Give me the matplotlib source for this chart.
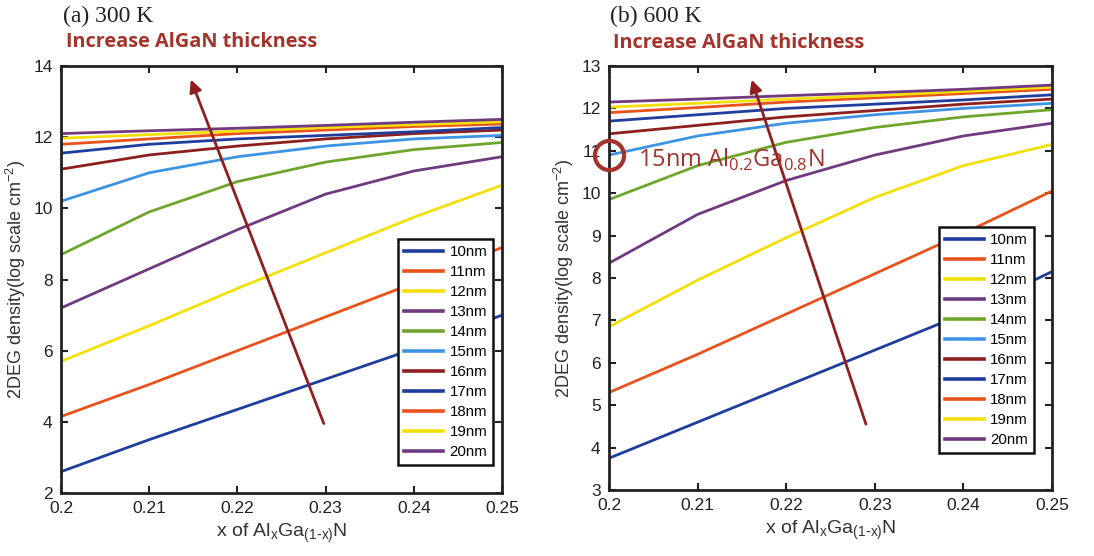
import matplotlib
matplotlib.use("Agg")
import matplotlib.pyplot as plt

x = [0.20, 0.21, 0.22, 0.23, 0.24, 0.25]
labels = ["10nm", "11nm", "12nm", "13nm", "14nm", "15nm", "16nm", "17nm", "18nm", "19nm", "20nm"]

n300 = [
    [2.6, 3.5, 4.35, 5.2, 6.05, 7.0],
    [4.15, 5.05, 6.0, 6.95, 7.9, 8.9],
    [5.7, 6.7, 7.75, 8.75, 9.75, 10.65],
    [7.2, 8.3, 9.4, 10.4, 11.05, 11.45],
    [8.7, 9.9, 10.75, 11.3, 11.65, 11.85],
    [10.2, 11.0, 11.45, 11.75, 11.95, 12.05],
    [11.1, 11.5, 11.75, 11.95, 12.1, 12.2],
    [11.55, 11.8, 11.95, 12.05, 12.15, 12.27],
    [11.8, 11.95, 12.1, 12.2, 12.3, 12.37],
    [11.97, 12.07, 12.17, 12.27, 12.35, 12.43],
    [12.1, 12.18, 12.25, 12.33, 12.42, 12.5],
]

n600 = [
    [3.75, 4.6, 5.45, 6.3, 7.15, 8.15],
    [5.3, 6.2, 7.15, 8.1, 9.05, 10.05],
    [6.85, 7.95, 8.95, 9.9, 10.65, 11.15],
    [8.35, 9.5, 10.3, 10.9, 11.35, 11.65],
    [9.85, 10.65, 11.2, 11.55, 11.8, 11.97],
    [10.9, 11.35, 11.65, 11.85, 12.0, 12.12],
    [11.4, 11.6, 11.8, 11.95, 12.1, 12.22],
    [11.7, 11.85, 12.0, 12.1, 12.2, 12.32],
    [11.9, 12.02, 12.15, 12.25, 12.35, 12.45],
    [12.03, 12.12, 12.22, 12.3, 12.4, 12.5],
    [12.15, 12.22, 12.3, 12.37, 12.45, 12.55],
]

colors = ["#1f3d9c", "#e8521c", "#f3df0a", "#6f3a80", "#6ea52c",
          "#3f93e3", "#8e1f1f", "#1f3d9c", "#e8521c", "#f3df0a", "#6f3a80"]

red = "#a3332b"

fig = plt.figure(figsize=(10.94, 5.56), dpi=100)
plt.rcParams['font.family'] = ['Liberation Sans', 'DejaVu Sans']

ax1 = fig.add_axes([0.0558, 0.1133, 0.4031, 0.768])
ax2 = fig.add_axes([0.5567, 0.1187, 0.4049, 0.7626])

def style(ax, ylim, yticks):
    ax.set_xlim(0.2, 0.25)
    ax.set_ylim(*ylim)
    ax.set_xticks([0.2, 0.21, 0.22, 0.23, 0.24, 0.25])
    ax.set_xticklabels(["0.2", "0.21", "0.22", "0.23", "0.24", "0.25"])
    ax.set_yticks(yticks)
    ax.tick_params(direction='in', top=True, right=True, length=5, width=1.5,
                   labelsize=12.5, colors='#222222', pad=6)
    for s in ax.spines.values():
        s.set_linewidth(2)
        s.set_color('#222222')
    ax.set_xlabel(r"x of Al$_{\mathregular{x}}$Ga$_{\mathregular{(1\text{-}x)}}$N", fontsize=14, color='#333333')
    ax.set_ylabel(r"2DEG density(log scale cm$^{\mathregular{-2}}$)", fontsize=13, color='#333333')

for ax, data in ((ax1, n300), (ax2, n600)):
    for i, (lab, ys) in enumerate(zip(labels, data)):
        ax.plot(x, ys, color=colors[i], lw=2, label=lab)

style(ax1, (2, 14), [2, 4, 6, 8, 10, 12, 14])
style(ax2, (3, 13), [3, 4, 5, 6, 7, 8, 9, 10, 11, 12, 13])

for ax, anchor in ((ax1, (0.98, 0.066)), (ax2, (0.959, 0.087))):
    leg = ax.legend(loc='lower right', bbox_to_anchor=anchor, borderaxespad=0,
                    fontsize=10.8, labelspacing=0.4, handlelength=2.6, fancybox=False,
                    edgecolor='#111111', framealpha=1, borderpad=0.4, handletextpad=0.4)
    leg.get_frame().set_linewidth(1.8)
    for h in leg.get_lines():
        h.set_linewidth(2.6)

ax1.annotate("", xy=(0.2146, 13.69), xytext=(0.2299, 3.88),
             arrowprops=dict(arrowstyle='-|>', color='#8e1f1f', lw=2, mutation_scale=18))
ax2.annotate("", xy=(0.2160, 12.74), xytext=(0.2291, 4.49),
             arrowprops=dict(arrowstyle='-|>', color='#8e1f1f', lw=2, mutation_scale=18))

# circle annotation on 600 K panel (marks the 15nm curve at x = 0.2)
ax2.plot([0.2], [n600[5][0]], marker='o', markersize=21, markerfacecolor='none',
         markeredgecolor=red, markeredgewidth=3, clip_on=False, zorder=5)
fig.text(638 / 1094, 1 - 160 / 556, r"15nm Al$_{\mathregular{0.2}}$Ga$_{\mathregular{0.8}}$N",
         fontsize=17, color=red, va='center', ha='left', family=['Open Sans', 'DejaVu Sans'])

fig.text(63 / 1094, 1 - 16 / 556, "(a) 300 K", fontsize=17, family=['Liberation Serif'],
         va='center', ha='left', color='#222222')
fig.text(610 / 1094, 1 - 16 / 556, "(b) 600 K", fontsize=17, family=['Liberation Serif'],
         va='center', ha='left', color='#222222')
fig.text(66 / 1094, 1 - 42 / 556, "Increase AlGaN thickness", fontsize=14.3, fontweight='bold',
         family=['Open Sans', 'DejaVu Sans'], color=red, va='center', ha='left')
fig.text(613 / 1094, 1 - 43 / 556, "Increase AlGaN thickness", fontsize=14.3, fontweight='bold',
         family=['Open Sans', 'DejaVu Sans'], color=red, va='center', ha='left')

fig.savefig("out.png", dpi=100)
